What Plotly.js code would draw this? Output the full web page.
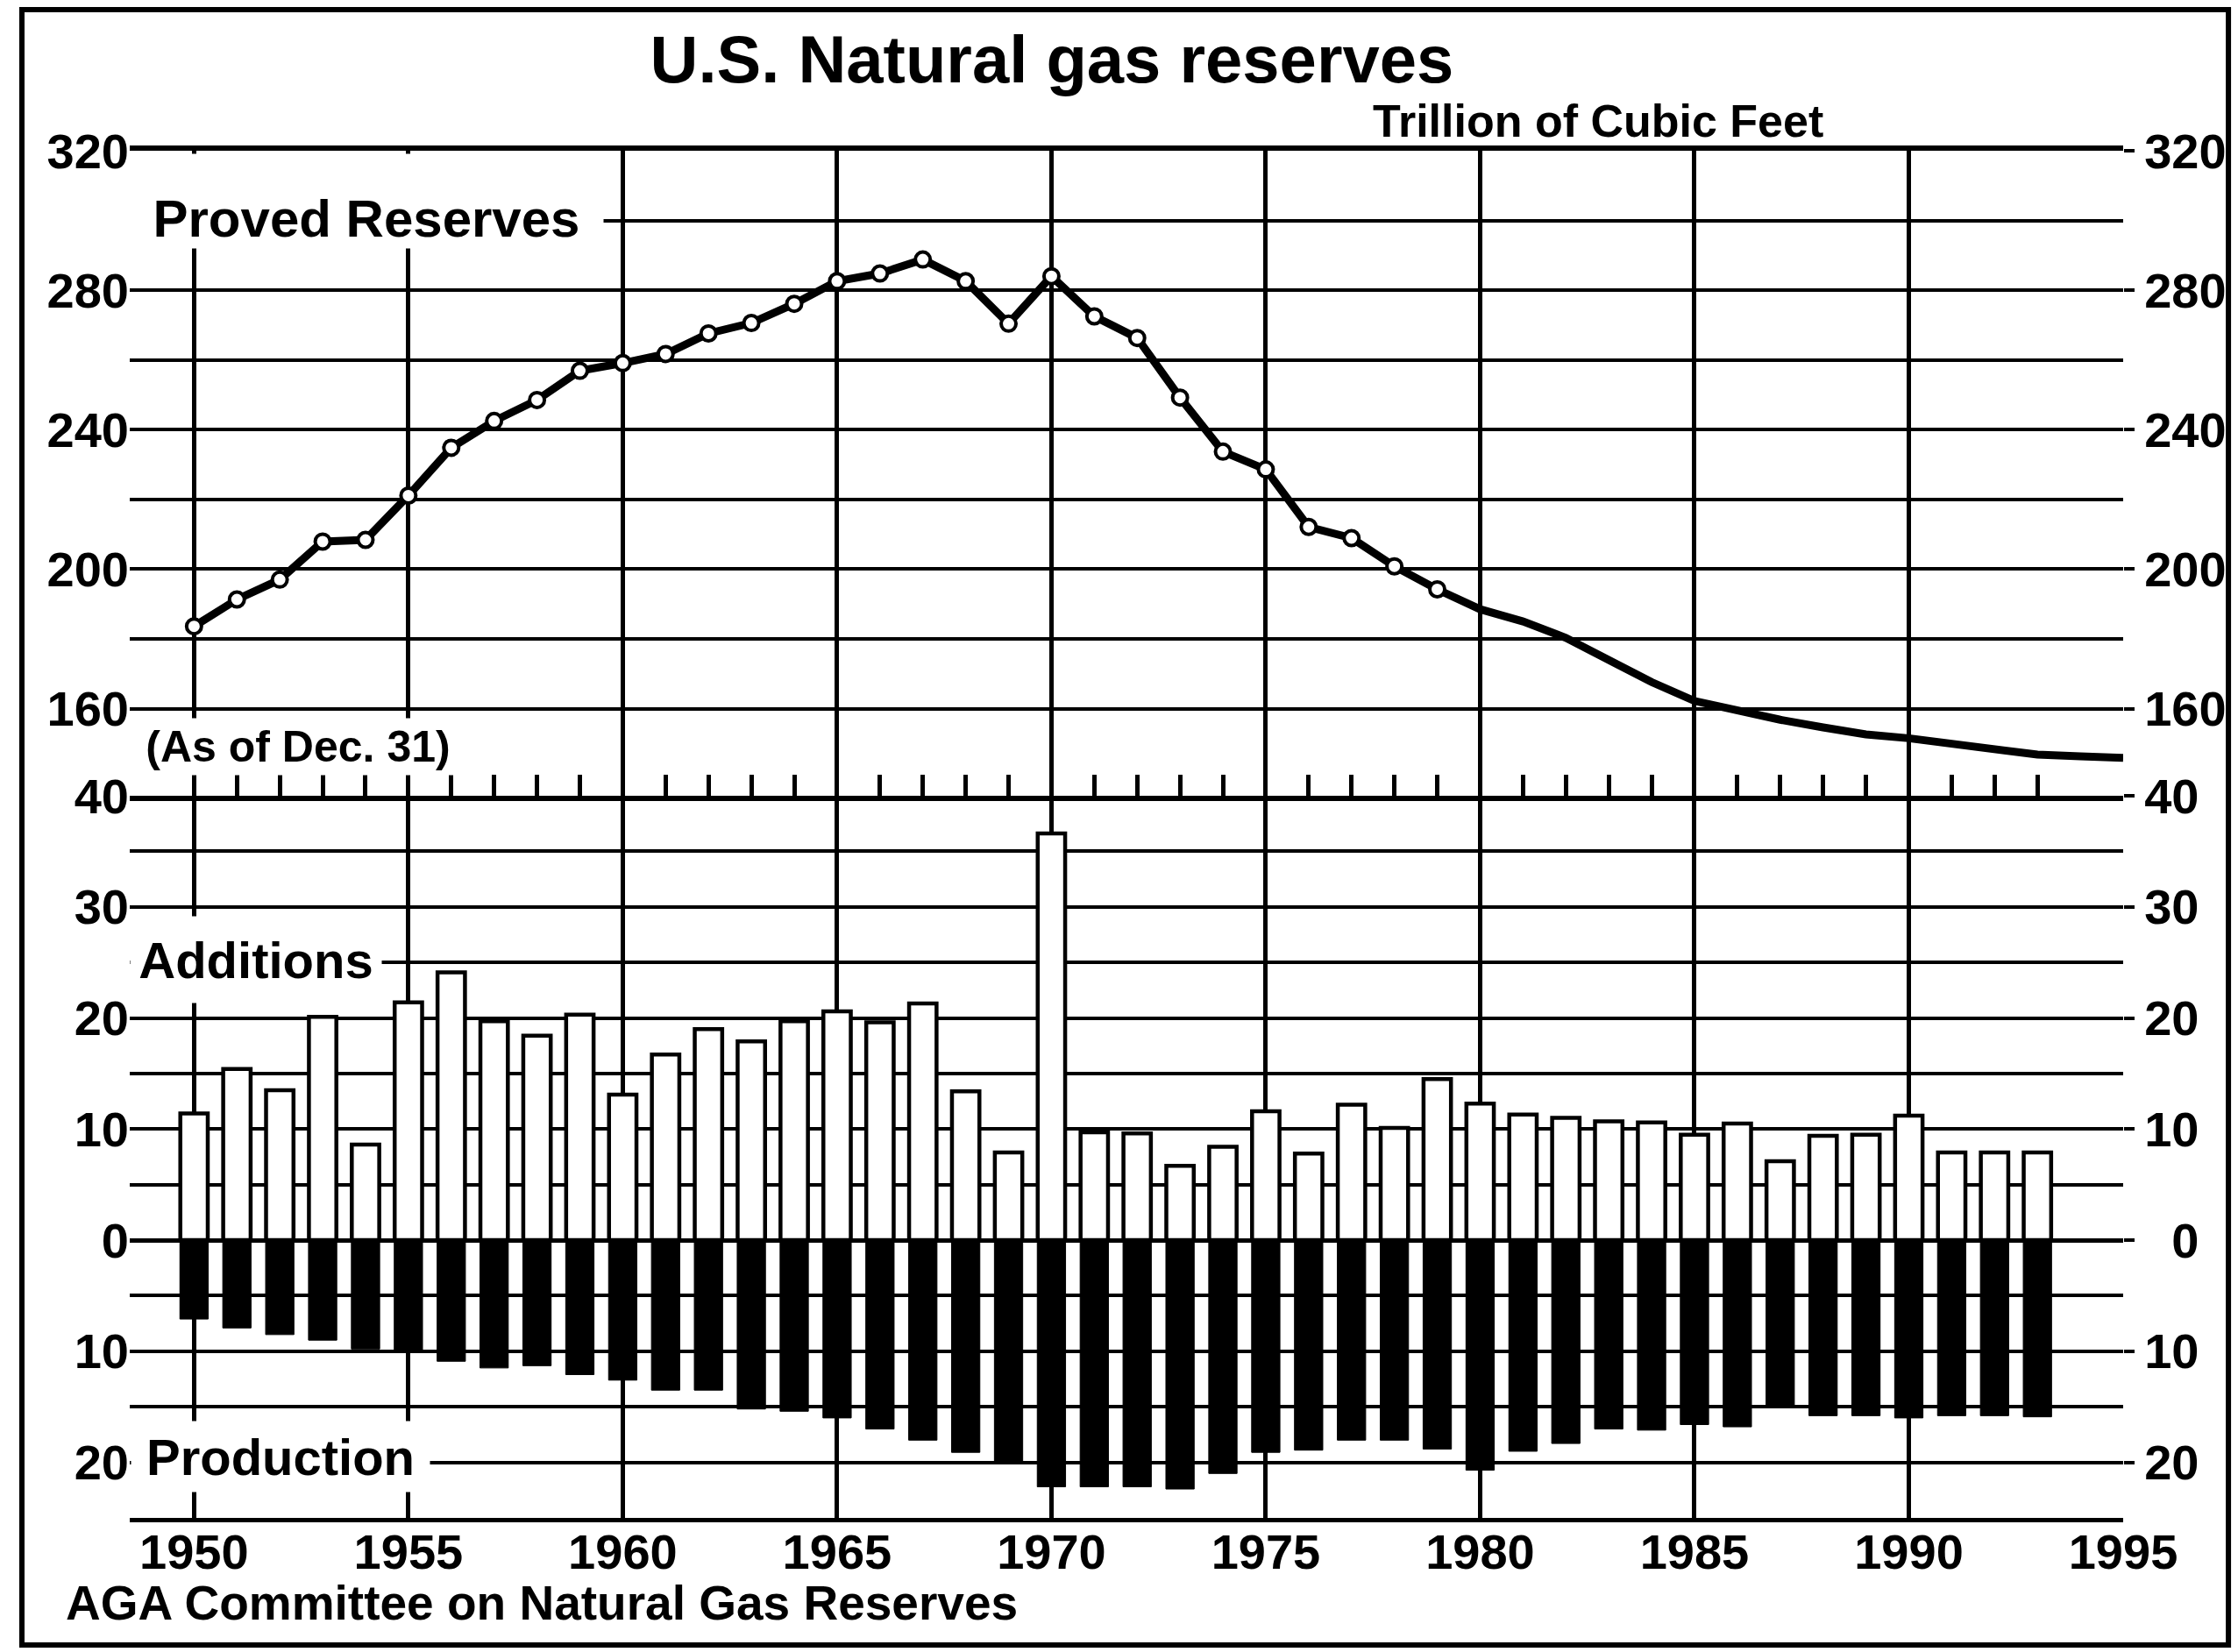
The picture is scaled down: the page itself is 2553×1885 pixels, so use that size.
<!DOCTYPE html>
<html>
<head>
<meta charset="utf-8">
<script src="https://cdn.plot.ly/plotly-3.0.1.min.js"></script>
<style>
html, body { margin: 0; padding: 0; background: #fff; }
#chart { width: 2553px; height: 1885px; }
</style>
</head>
<body>
<div id="chart"></div>
<script>
// ---------- DATA ----------
const lineYears = [1950,1951,1952,1953,1954,1955,1956,1957,1958,1959,
                   1960,1961,1962,1963,1964,1965,1966,1967,1968,1969,
                   1970,1971,1972,1973,1974,1975,1976,1977,1978,1979,
                   1980,1981,1982,1983,1984,1985,1986,1987,1988,1989,
                   1990,1991,1992,1993,1994,1995];
// Proved reserves, trillion cubic feet (as of Dec. 31)
const provedReserves = [183.6,191.3,197.0,207.9,208.4,221.1,234.8,242.5,248.5,256.9,
                        259.1,261.7,267.6,270.6,276.1,282.6,284.8,288.8,282.6,270.4,
                        284.0,272.5,266.3,249.2,233.7,228.6,212.1,208.9,200.8,194.2,
                        188.5,185.0,180.3,173.9,167.6,162.2,159.4,156.8,154.6,152.6,
                        151.5,150.0,148.2,146.8,146.3,145.9];
// number of leading years drawn with open circles
const markedCount = 30;

const barYears = [1950,1951,1952,1953,1954,1955,1956,1957,1958,1959,
                  1960,1961,1962,1963,1964,1965,1966,1967,1968,1969,
                  1970,1971,1972,1973,1974,1975,1976,1977,1978,1979,
                  1980,1981,1982,1983,1984,1985,1986,1987,1988,1989,
                  1990,1991,1992,1993];
const additions = [11.4,15.4,13.5,20.1,8.6,21.4,24.1,19.7,18.4,20.3,
                   13.1,16.7,19.0,17.9,19.7,20.6,19.6,21.3,13.4,7.9,
                   36.6,9.7,9.6,6.7,8.4,11.6,7.8,12.2,10.1,14.5,
                   12.3,11.3,11.0,10.7,10.6,9.5,10.5,7.1,9.4,9.5,
                   11.2,7.9,7.9,7.9];
const production = [7.1,7.9,8.5,9.0,9.8,10.0,10.9,11.5,11.3,12.1,
                    12.6,13.5,13.5,15.2,15.4,16.0,17.0,18.0,19.1,20.0,
                    22.2,22.2,22.2,22.4,21.0,19.1,18.9,18.0,18.0,18.8,
                    20.7,19.0,18.3,17.0,17.1,16.6,16.8,15.1,15.8,15.8,
                    16.0,15.8,15.8,15.9];

const topGridVals   = [160,180,200,220,240,260,280,300,320];
const topLabelVals  = [160,200,240,280,320];
const topLabelText  = ['160','200','240','280','320'];
const bottomGridVals  = [-25,-20,-15,-10,-5,0,5,10,15,20,25,30,35,40];
const bottomLabelVals = [-20,-10,0,10,20,30,40];
const bottomLabelText = ['20','10','0','10','20','30','40'];
const gridYears  = [1950,1955,1960,1965,1970,1975,1980,1985,1990];
const labelYears = [1950,1955,1960,1965,1970,1975,1980,1985,1990,1995];
const yearLabels = ['1950','1955','1960','1965','1970','1975','1980','1985','1990','1995'];

// ---------- STYLE ----------
const FONT = 'Liberation Sans, Arial, Helvetica, sans-serif';
const BLACK = '#000000';
const splitY = 0.52821;   // boundary between the two panels (paper units)
const xRange = [1948.5, 1995];

const rightBottomText = bottomLabelText.map(t => t.length === 1 ? '\u2007' + t : t);

const traces = [
  {
    type: 'scatter', mode: 'lines',
    x: lineYears, y: provedReserves,
    xaxis: 'x', yaxis: 'y',
    line: { color: BLACK, width: 9 },
    hoverinfo: 'skip'
  },
  {
    type: 'scatter', mode: 'markers',
    x: lineYears.slice(0, markedCount), y: provedReserves.slice(0, markedCount),
    xaxis: 'x', yaxis: 'y3',
    marker: { symbol: 'circle', size: 17, color: '#ffffff', line: { color: BLACK, width: 4 } },
    hoverinfo: 'skip'
  },
  {
    type: 'bar',
    x: barYears, y: additions,
    xaxis: 'x2', yaxis: 'y2',
    width: 0.64,
    marker: { color: '#ffffff', line: { color: BLACK, width: 4.5 } },
    hoverinfo: 'skip'
  },
  {
    type: 'bar',
    x: barYears, y: production.map(v => -v),
    xaxis: 'x2', yaxis: 'y4',
    width: 0.66,
    marker: { color: BLACK, line: { color: BLACK, width: 1 } },
    hoverinfo: 'skip'
  }
];

const tickFont = { family: FONT, size: 56, color: BLACK, weight: 'bold' };

const layout = {
  width: 2553, height: 1885,
  margin: { l: 148, r: 131, t: 172, b: 153, pad: 0 },
  paper_bgcolor: '#ffffff', plot_bgcolor: '#ffffff',
  showlegend: false,
  barmode: 'overlay',
  title: {
    text: 'U.S. Natural gas reserves',
    font: { family: FONT, size: 76, color: BLACK, weight: 'bold' },
    x: 0.47, xref: 'container', xanchor: 'center',
    y: 0.964, yref: 'container', yanchor: 'middle'
  },
  xaxis: {
    domain: [0, 1], range: xRange, anchor: 'y', fixedrange: true,
    tickmode: 'array', tickvals: gridYears, showticklabels: false, ticks: '',
    showgrid: true, gridcolor: BLACK, gridwidth: 5, zeroline: false,
    showline: true, mirror: true, linecolor: BLACK, linewidth: 6,
    minor: { tickmode: 'array', tickvals: barYears, ticks: 'inside', ticklen: 24,
             tickwidth: 5, tickcolor: BLACK, showgrid: false }
  },
  xaxis2: {
    domain: [0, 1], range: xRange, anchor: 'y2', fixedrange: true,
    tickmode: 'array', tickvals: labelYears, ticktext: yearLabels,
    ticks: 'inside', ticklen: 22, tickwidth: 4, tickcolor: BLACK,
    ticklabelstandoff: -14,
    tickfont: tickFont, showgrid: false, zeroline: false,
    showline: true, linecolor: BLACK, linewidth: 5,
    minor: { tickmode: 'array', tickvals: gridYears, ticks: '', showgrid: true,
             gridcolor: BLACK, gridwidth: 5 }
  },
  yaxis: {
    domain: [splitY, 1], range: [135, 320], anchor: 'x', fixedrange: true,
    tickmode: 'array', tickvals: topLabelVals, ticktext: topLabelText,
    ticks: '', tickfont: tickFont,
    showgrid: true, gridcolor: BLACK, gridwidth: 4,
    minor: { tickmode: 'array', tickvals: topGridVals, ticks: '', showgrid: true,
             gridcolor: BLACK, gridwidth: 4 },
    zeroline: false, showline: false
  },
  yaxis3: {
    overlaying: 'y', side: 'right', anchor: 'x', range: [135, 320], fixedrange: true,
    tickmode: 'array', tickvals: topLabelVals, ticktext: topLabelText,
    ticks: 'outside', ticklen: 12, tickwidth: 4, tickcolor: BLACK,
    tickfont: tickFont, showgrid: false, zeroline: false, showline: false
  },
  yaxis2: {
    domain: [0, splitY], range: [-25, 40], anchor: 'x2', fixedrange: true,
    tickmode: 'array', tickvals: bottomLabelVals, ticktext: bottomLabelText,
    ticks: '', tickfont: tickFont,
    showgrid: true, gridcolor: BLACK, gridwidth: 4,
    minor: { tickmode: 'array', tickvals: bottomGridVals, ticks: '', showgrid: true,
             gridcolor: BLACK, gridwidth: 4 },
    zeroline: true, zerolinecolor: BLACK, zerolinewidth: 5, showline: false
  },
  yaxis4: {
    overlaying: 'y2', side: 'right', anchor: 'x2', range: [-25, 40], fixedrange: true,
    tickmode: 'array', tickvals: bottomLabelVals, ticktext: rightBottomText,
    ticks: 'outside', ticklen: 12, tickwidth: 4, tickcolor: BLACK,
    tickfont: tickFont, showgrid: false, zeroline: false, showline: false
  },
  annotations: [
    { text: 'Trillion of Cubic Feet', xref: 'paper', yref: 'paper', x: 0.7366, y: 1.0215,
      xanchor: 'center', yanchor: 'middle', showarrow: false,
      font: { family: FONT, size: 52, color: BLACK, weight: 'bold' } },
    { text: 'Proved Reserves', xref: 'paper', yref: 'paper', x: 0.1187, y: 0.9631,
      xanchor: 'center', yanchor: 'middle', showarrow: false,
      width: 540, height: 107, valign: 'bottom', align: 'center',
      bgcolor: '#ffffff', borderpad: 0,
      font: { family: FONT, size: 60, color: BLACK, weight: 'bold' } },
    { text: '(As of Dec. 31)', xref: 'paper', yref: 'paper', x: 0.0844, y: 0.5641,
      xanchor: 'center', yanchor: 'middle', showarrow: false,
      width: 372, height: 64, valign: 'middle',
      bgcolor: '#ffffff', borderpad: 0,
      font: { family: FONT, size: 50, color: BLACK, weight: 'bold' } },
    { text: 'Additions', xref: 'paper', yref: 'paper', x: 0.0633, y: 0.4083,
      xanchor: 'center', yanchor: 'middle', showarrow: false,
      width: 286, height: 98, valign: 'middle',
      bgcolor: '#ffffff', borderpad: 0,
      font: { family: FONT, size: 58, color: BLACK, weight: 'bold' } },
    { text: 'Production', xref: 'paper', yref: 'paper', x: 0.0756, y: 0.0449,
      xanchor: 'center', yanchor: 'middle', showarrow: false,
      width: 340, height: 80, valign: 'middle',
      bgcolor: '#ffffff', borderpad: 0,
      font: { family: FONT, size: 58, color: BLACK, weight: 'bold' } },
    { text: 'AGA Committee on Natural Gas Reserves', xref: 'paper', yref: 'paper',
      x: -0.033, y: -0.0622, xanchor: 'left', yanchor: 'middle', showarrow: false,
      font: { family: FONT, size: 55, color: BLACK, weight: 'bold' } }
  ],
  shapes: [
    { type: 'rect', xref: 'paper', yref: 'paper', x0: -0.0541, x1: 1.0528, y0: -0.0929, y1: 1.1032,
      line: { color: BLACK, width: 6 }, fillcolor: 'rgba(0,0,0,0)', layer: 'above' }
  ]
};

Plotly.newPlot('chart', traces, layout, { staticPlot: true, displayModeBar: false });
</script>
</body>
</html>
